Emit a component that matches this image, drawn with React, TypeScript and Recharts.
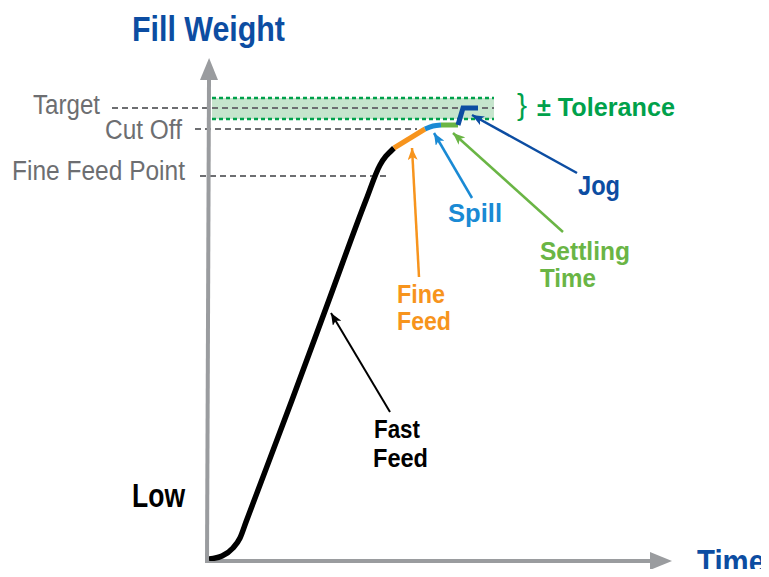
import {
  LineChart,
  Line,
  XAxis,
  YAxis,
  ReferenceLine,
  ReferenceArea,
  Customized
} from "recharts"

// time (x) and fill weight (y) in arbitrary units, origin at the axes corner
const fastFeed = [
  { t: 0, w: 0.2 },
  { t: 1.3, w: 0.5 },
  { t: 2.4, w: 1.3 },
  { t: 3.1, w: 2.3 },
  { t: 3.7, w: 3.9 },
  { t: 8.3, w: 16.1 },
  { t: 12.0, w: 26.1 },
  { t: 15.7, w: 36.1 },
  { t: 17.1, w: 39.6 },
  { t: 17.7, w: 40.5 },
  { t: 18.1, w: 40.9 },
  { t: 18.5, w: 41.3 }
]
const fineFeed = [
  { t: 18.5, w: 41.3 },
  { t: 21.6, w: 43.2 }
]
const spill = [
  { t: 21.6, w: 43.2 },
  { t: 22.4, w: 43.5 },
  { t: 23.2, w: 43.6 }
]
const settling = [
  { t: 23.2, w: 43.6 },
  { t: 24.9, w: 43.6 }
]
const jog = [
  { t: 24.9, w: 43.6 },
  { t: 25.4, w: 45.3 },
  { t: 26.9, w: 45.3 }
]

const targetW = 45.3
const cutOffW = 43.2
const fineFeedPointW = 38.5
const toleranceBand = [44.2, 46.3]

// annotation arrows: [from, to]
const arrows = [
  { id: "fast", color: "#000000", from: { x: 18.1, y: 14.9 }, to: { x: 12.2, y: 24.8 } },
  { id: "fine", color: "#f7941d", from: { x: 21.0, y: 28.4 }, to: { x: 20.3, y: 41.3 } },
  { id: "spill", color: "#1a8ad4", from: { x: 26.3, y: 36.3 }, to: { x: 22.5, y: 42.8 } },
  { id: "settle", color: "#6ab545", from: { x: 35.4, y: 32.9 }, to: { x: 24.4, y: 42.8 } },
  { id: "jog", color: "#0c4da2", from: { x: 36.8, y: 38.8 }, to: { x: 26.3, y: 44.6 } }
]

const DARK_BLUE = "#0c4da2"
const GRAY = "#6d6e71"
const AXIS = "#9a9c9f"
const TOL_GREEN = "#00a14b"
const FONT = "'Liberation Sans', Arial, sans-serif"

// squeezed text to imitate the condensed face of the original
function T(props: { x: number; y: number; w: number; size: number; color: string; bold?: boolean; children: string }) {
  return (
    <text x={props.x} y={props.y} fontSize={props.size} fill={props.color}
      fontFamily={FONT} fontWeight={props.bold === false ? 400 : 700}
      textLength={props.w} lengthAdjust="spacingAndGlyphs">
      {props.children}
    </text>
  )
}

function Overlay() {
  return (
    <g>
      <defs>
        <marker id="axisHead" markerUnits="userSpaceOnUse" markerWidth="24" markerHeight="20"
          refX="0" refY="9" orient="auto">
          <path d="M0,0 L22,9 L0,18 z" fill={AXIS} />
        </marker>
        {arrows.map((a) => (
          <marker key={a.id} id={`head-${a.id}`} markerUnits="userSpaceOnUse"
            markerWidth="14" markerHeight="10" refX="12" refY="5" orient="auto">
            <path d="M0,0 L12,5 L0,10 L3,5 z" fill={a.color} />
          </marker>
        ))}
      </defs>

      <T x={132} y={41} w={153} size={35} color={DARK_BLUE}>Fill Weight</T>
      <T x={697} y={573} w={68} size={34} color={DARK_BLUE}>Time</T>
      <T x={132} y={507} w={53} size={34} color="#000">Low</T>

      <T x={33} y={114} w={67} size={27} color={GRAY} bold={false}>Target</T>
      <T x={105} y={139} w={77} size={27} color={GRAY} bold={false}>Cut Off</T>
      <T x={12} y={180} w={173} size={27} color={GRAY} bold={false}>Fine Feed Point</T>

      <text x={517} y={115} fontSize={30} fill={TOL_GREEN} fontFamily={FONT} fontWeight={300}>{"}"}</text>
      <T x={537} y={116} w={138} size={26} color={TOL_GREEN}>± Tolerance</T>

      <T x={374} y={438} w={46} size={26} color="#000">Fast</T>
      <T x={373} y={467} w={55} size={26} color="#000">Feed</T>
      <T x={397} y={303} w={48} size={25} color="#f7941d">Fine</T>
      <T x={397} y={330} w={54} size={25} color="#f7941d">Feed</T>
      <T x={448} y={222} w={54} size={26} color="#1a8ad4">Spill</T>
      <T x={540} y={260} w={90} size={25} color="#6ab545">Settling</T>
      <T x={540} y={287} w={56} size={25} color="#6ab545">Time</T>
      <T x={578} y={195} w={42} size={27} color={DARK_BLUE}>Jog</T>
    </g>
  )
}

function arrowShape(id: string, color: string, width: number) {
  return (p: any) => (
    <line x1={p.x1} y1={p.y1} x2={p.x2} y2={p.y2} stroke={color} strokeWidth={width}
      markerEnd={`url(#${id})`} />
  )
}

function dashed(color: string, width: number, dash: string) {
  return (p: any) => (
    <line x1={p.x1} y1={p.y1} x2={p.x2} y2={p.y2} stroke={color} strokeWidth={width}
      strokeDasharray={dash} />
  )
}

export default function App() {
  return (
    <div style={{ width: 769, height: 577, margin: -8, background: "#fff", fontFamily: FONT }}>
      <LineChart
        width={769}
        height={577}
        margin={{ top: 61, right: 100, bottom: 16, left: 209 }}
      >
        <XAxis type="number" dataKey="t" domain={[0, 46]} hide allowDataOverflow />
        <YAxis type="number" dataKey="w" domain={[0, 50]} hide allowDataOverflow />

        <Customized component={Overlay} />

        <ReferenceArea x1={0.3} x2={28.5} y1={toleranceBand[0]} y2={toleranceBand[1]}
          fill="#c6e5cd" fillOpacity={1} stroke="none" ifOverflow="visible" />
        <ReferenceLine segment={[{ x: 0.3, y: toleranceBand[1] }, { x: 28.5, y: toleranceBand[1] }]}
          ifOverflow="visible" shape={dashed(TOL_GREEN, 2.5, "4 3")} />
        <ReferenceLine segment={[{ x: 0.3, y: toleranceBand[0] }, { x: 28.5, y: toleranceBand[0] }]}
          ifOverflow="visible" shape={dashed(TOL_GREEN, 2.5, "4 3")} />

        <ReferenceLine segment={[{ x: -9.7, y: targetW }, { x: 28.5, y: targetW }]}
          ifOverflow="visible" shape={dashed("#6d6e71", 2, "6 4")} />
        <ReferenceLine segment={[{ x: -1.4, y: cutOffW }, { x: 20.8, y: cutOffW }]}
          ifOverflow="visible" shape={dashed("#6d6e71", 2, "6 4")} />
        <ReferenceLine segment={[{ x: -0.9, y: fineFeedPointW }, { x: 17.9, y: fineFeedPointW }]}
          ifOverflow="visible" shape={dashed("#6d6e71", 2, "6 4")} />

        {/* axes with arrow heads */}
        <ReferenceLine segment={[{ x: -0.2, y: -0.2 }, { x: 0, y: 48.1 }]}
          ifOverflow="visible" shape={arrowShape("axisHead", AXIS, 4)} />
        <ReferenceLine segment={[{ x: -0.2, y: 0 }, { x: 44.1, y: 0 }]}
          ifOverflow="visible" shape={arrowShape("axisHead", AXIS, 4)} />

        {arrows.map((a) => (
          <ReferenceLine key={a.id} segment={[a.from, a.to]} ifOverflow="visible"
            shape={arrowShape(`head-${a.id}`, a.color, a.id === "fast" ? 2 : 2.5)} />
        ))}

        <Line data={fastFeed} dataKey="w" type="monotone" stroke="#000" strokeWidth={5.5}
          dot={false} activeDot={false} isAnimationActive={false} />
        <Line data={fineFeed} dataKey="w" type="linear" stroke="#f7941d" strokeWidth={5}
          dot={false} activeDot={false} isAnimationActive={false} />
        <Line data={spill} dataKey="w" type="monotone" stroke="#1a8ad4" strokeWidth={5}
          dot={false} activeDot={false} isAnimationActive={false} />
        <Line data={settling} dataKey="w" type="linear" stroke="#6ab545" strokeWidth={5}
          dot={false} activeDot={false} isAnimationActive={false} />
        <Line data={jog} dataKey="w" type="linear" stroke={DARK_BLUE} strokeWidth={5}
          dot={false} activeDot={false} isAnimationActive={false} />
      </LineChart>
    </div>
  )
}
